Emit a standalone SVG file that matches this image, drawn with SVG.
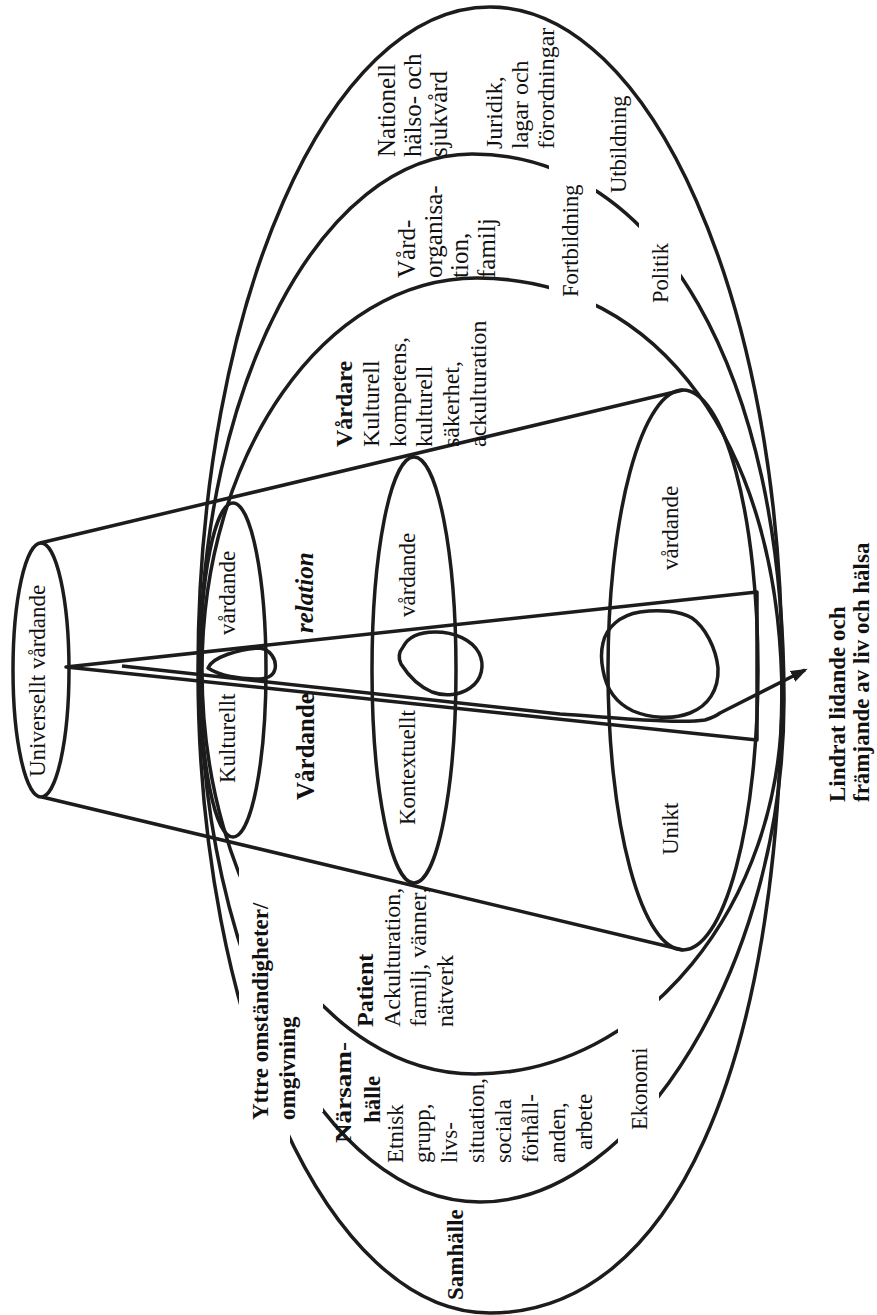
<svg xmlns="http://www.w3.org/2000/svg" width="877" height="1315" viewBox="0 0 877 1315">
<defs>
<style>
.ln{fill:none;stroke:#1c1c1c;stroke-width:3.5;stroke-linejoin:round}
.t{font-family:"Liberation Serif","Times New Roman",serif;font-size:23px;fill:#111}
.b{font-weight:bold}
.s24{font-size:24px}
.s25{font-size:25px}
.s22{font-size:22.5px}
</style>
<marker id="ah" markerUnits="userSpaceOnUse" markerWidth="18" markerHeight="14" refX="14" refY="6" orient="auto"><path d="M0,0 L17,6 L0,12 Z" fill="#1c1c1c"/></marker>
<mask id="gaps" maskUnits="userSpaceOnUse" x="0" y="0" width="877" height="1315">
<rect width="877" height="1315" fill="#fff"/>
<polygon points="239,855 323,875 323,1112 290,1112 290,1146 239,1146" fill="#000"/>
<rect x="549" y="150" width="47" height="170" fill="#000"/>
<rect x="639" y="210" width="42" height="82" fill="#000"/>
<rect x="618" y="985" width="41" height="180" fill="#000"/>
</mask>
</defs>
<rect width="877" height="1315" fill="#fff"/>

<g id="rings" mask="url(#gaps)">
<path id="ring-samhalle" class="ln" d="M198,670 C198,303.8 328.7,7 490,7 C651.3,7 782,303.8 782,670 C782,1068.7 671,1313 490,1313 C328.7,1313 198,1025.1 198,670 Z"/>
<path id="ring-narsamhalle" class="ln" d="M200,670 C200,385 321.8,154 472,154 C659.2,154 784,372.4 784,700 C784,961 638,1202 480,1202 C325.4,1202 200,963.8 200,670 Z"/>
<path id="ring-patient" class="ln" d="M202,670 C202,453.5 325.1,278 477,278 C660,278 782,446.8 782,700 C782,905.7 643.9,1074 475,1074 C324.2,1074 202,893.1 202,670 Z"/>
</g>

<g id="cylinder">
<line class="ln" x1="40" y1="543" x2="683" y2="390"/>
<line class="ln" x1="42" y1="797" x2="683" y2="950"/>
</g>

<g id="universellt">
<ellipse class="ln" cx="41" cy="670" rx="28" ry="127"/>
<text class="t" transform="rotate(-90)" x="-777" y="45">Universellt vårdande</text>
</g>

<g id="kulturellt">
<ellipse class="ln" cx="233" cy="670" rx="33" ry="167"/>
<text class="t" transform="rotate(-90)" x="-783" y="235">Kulturellt</text>
<text class="t" transform="rotate(-90)" x="-635" y="235">vårdande</text>
</g>

<g id="kontextuellt">
<ellipse class="ln" cx="414" cy="670" rx="42" ry="213"/>
<text class="t" transform="rotate(-90)" x="-825" y="415">Kontextuellt</text>
<text class="t" transform="rotate(-90)" x="-617" y="415">vårdande</text>
</g>

<g id="unikt">
<ellipse class="ln" cx="683" cy="670" rx="75" ry="280"/>
<text class="t" transform="rotate(-90)" x="-855" y="678">Unikt</text>
<text class="t" transform="rotate(-90)" x="-570" y="678">vårdande</text>
</g>

<g id="wedge">
<path class="ln" d="M66,667 L757,592 L757,740 Z"/>
<text class="t b s25" font-style="italic" transform="rotate(-90)" x="-633" y="313">relation</text>
<text class="t b s25" transform="rotate(-90)" x="-800" y="314">Vårdande</text>
</g>

<g id="blobs">
<path class="ln" d="M208,668 C212,657 240,649 258,648 C270,648 277,660 275,669 C273,677 266,679 255,679 C240,679 220,676 208,668 Z"/>
<path class="ln" d="M403,647 C408,637 420,632 435,632 C455,632 472,640 479,653 C485,665 482,680 470,688 C460,695 445,697 432,692 C418,686 408,675 401,664 C398,658 399,652 403,647 Z"/>
<path class="ln" d="M603,643 C606,628 620,615 640,612 C660,609 680,611 692,618 C705,627 716,648 718,668 C719,690 708,706 690,713 C672,720 650,718 633,711 C616,703 606,688 603,670 C601,660 601,651 603,643 Z"/>
</g>

<g id="connectors">
<path class="ln" stroke-width="3" d="M122,666 L560,714 C620,718 680,724 705,720 C712,718 716,716 720,713 L805,670" marker-end="url(#ah)"/>
</g>

<g id="vardare">
<text class="t b s24" transform="rotate(-90)" x="-447" y="352">Vårdare</text>
<text class="t s24" transform="rotate(-90)" x="-447" y="379">Kulturell</text>
<text class="t s24" transform="rotate(-90)" x="-447" y="406">kompetens,</text>
<text class="t s24" transform="rotate(-90)" x="-447" y="432">kulturell</text>
<text class="t s24" transform="rotate(-90)" x="-447" y="459">säkerhet,</text>
<text class="t s24" transform="rotate(-90)" x="-447" y="486">ackulturation</text>
</g>

<g id="vardorganisation">
<text class="t s25" transform="rotate(-90)" x="-278" y="415">Vård-</text>
<text class="t s25" transform="rotate(-90)" x="-278" y="442">organisa-</text>
<text class="t s25" transform="rotate(-90)" x="-278" y="468">tion,</text>
<text class="t s25" transform="rotate(-90)" x="-278" y="495">familj</text>
</g>

<g id="nationell">
<text class="t s25" transform="rotate(-90)" x="-157" y="395">Nationell</text>
<text class="t s25" transform="rotate(-90)" x="-157" y="421">hälso- och</text>
<text class="t s25" transform="rotate(-90)" x="-157" y="447">sjukvård</text>
</g>

<g id="juridik">
<text class="t s24" transform="rotate(-90)" x="-149" y="502">Juridik,</text>
<text class="t s24" transform="rotate(-90)" x="-149" y="528">lagar och</text>
<text class="t s24" transform="rotate(-90)" x="-149" y="554">förordningar</text>
</g>

<g id="fortbildning"><text class="t s22" transform="rotate(-90)" x="-297" y="578">Fortbildning</text></g>
<g id="utbildning"><text class="t s22" transform="rotate(-90)" x="-193" y="626">Utbildning</text></g>
<g id="politik"><text class="t s22" transform="rotate(-90)" x="-303" y="668">Politik</text></g>
<g id="ekonomi"><text class="t s22" transform="rotate(-90)" x="-1130" y="647">Ekonomi</text></g>

<g id="patient">
<text class="t b s24" transform="rotate(-90)" x="-1027" y="373">Patient</text>
<text class="t s24" transform="rotate(-90)" x="-1027" y="400">Ackulturation,</text>
<text class="t s24" transform="rotate(-90)" x="-1027" y="426">familj, vänner,</text>
<text class="t s24" transform="rotate(-90)" x="-1027" y="453">nätverk</text>
</g>

<g id="narsamhalle">
<text class="t b" font-size="25px" transform="rotate(-90)" x="-1143" y="351" textLength="101" lengthAdjust="spacingAndGlyphs">Närsam-</text>
<text class="t b" transform="rotate(-90)" x="-1123" y="380">hälle</text>
<text class="t" transform="rotate(-90)" x="-1163" y="403">Etnisk</text>
<text class="t" transform="rotate(-90)" x="-1163" y="430">grupp,</text>
<text class="t" transform="rotate(-90)" x="-1163" y="457">livs-</text>
<text class="t" transform="rotate(-90)" x="-1163" y="484">situation,</text>
<text class="t" transform="rotate(-90)" x="-1163" y="511">sociala</text>
<text class="t" transform="rotate(-90)" x="-1163" y="538">förhåll-</text>
<text class="t" transform="rotate(-90)" x="-1163" y="565">anden,</text>
<text class="t" transform="rotate(-90)" x="-1150" y="592">arbete</text>
</g>

<g id="samhalle"><text class="t b" transform="rotate(-90)" x="-1300" y="463">Samhälle</text></g>

<g id="yttre">
<text class="t b" transform="rotate(-90)" x="-1120" y="268">Yttre omständigheter/</text>
<text class="t b" transform="rotate(-90)" x="-1120" y="295">omgivning</text>
</g>

<g id="lindrat">
<text class="t b" transform="rotate(-90)" x="-802" y="845">Lindrat lidande och</text>
<text class="t b" transform="rotate(-90)" x="-802" y="869">främjande av liv och hälsa</text>
</g>
</svg>
